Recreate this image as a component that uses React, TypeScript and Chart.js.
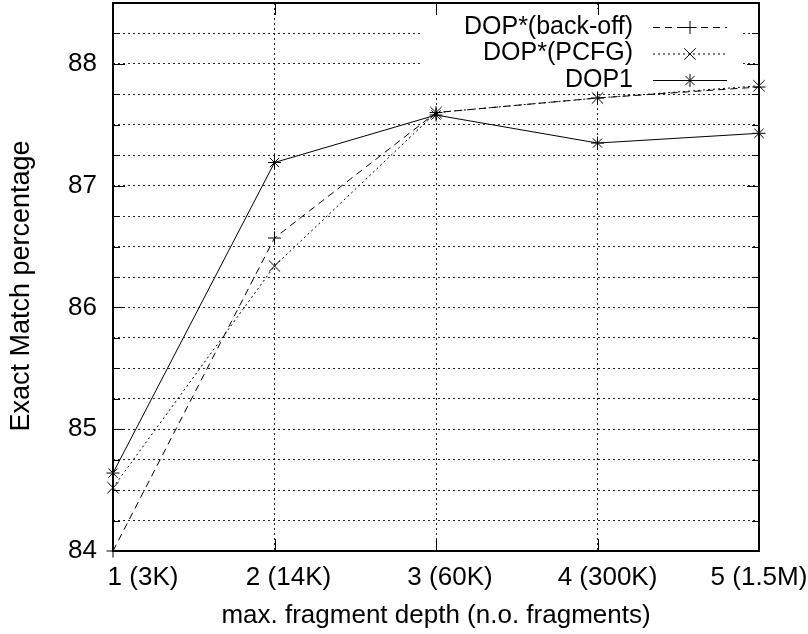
import React, { useEffect, useRef } from 'react';
import { Chart, registerables } from 'chart.js';

Chart.register(...registerables);

const categories = ['1 (3K)', '2 (14K)', '3 (60K)', '4 (300K)', '5 (1.5M)'];
const seriesNames = ['DOP*(back-off)', 'DOP*(PCFG)', 'DOP1'];
const backoffValues = [84.0, 86.57, 87.6, 87.72, 87.81];
const pcfgValues = [84.52, 86.34, 87.6, 87.72, 87.82];
const dop1Values = [84.64, 87.19, 87.58, 87.35, 87.43];
const yLabelValues = [84, 85, 86, 87, 88];
const yMin = 84;
const yMax = 88.5;
const yStep = 0.25;
const xTitle = 'max. fragment depth (n.o. fragments)';
const yTitle = 'Exact Match percentage';

// horizontal shift of each x tick label relative to its tick (as in the original figure)
const xLabelShift = [30, 14, 14, 10, 0];

const FONT = '"Liberation Sans", Arial, Helvetica, sans-serif';

function drawMarker(ctx: CanvasRenderingContext2D, style: string, x: number, y: number, r: number) {
  ctx.beginPath();
  if (style === 'cross' || style === 'star') {
    ctx.moveTo(x - r, y);
    ctx.lineTo(x + r, y);
    ctx.moveTo(x, y - r);
    ctx.lineTo(x, y + r);
  }
  if (style === 'crossRot' || style === 'star') {
    const d = r * Math.SQRT1_2;
    ctx.moveTo(x - d, y - d);
    ctx.lineTo(x + d, y + d);
    ctx.moveTo(x - d, y + d);
    ctx.lineTo(x + d, y - d);
  }
  ctx.stroke();
}

const framePlugin = {
  id: 'gnuplotFrame',
  beforeDatasetsDraw(chart: any) {
    const { ctx, chartArea: a, scales } = chart;
    ctx.save();
    ctx.fillStyle = '#ffffff';
    ctx.fillRect(420, 9, 321, 82);
    ctx.strokeStyle = '#000';
    ctx.lineWidth = 1;
    ctx.setLineDash([]);
    const ys = scales.y;
    ys.ticks.forEach((t: any) => {
      const py = Math.round(ys.getPixelForValue(t.value)) + 0.5;
      const len = yLabelValues.includes(t.value) ? 12 : 7;
      ctx.beginPath();
      ctx.moveTo(a.left, py);
      ctx.lineTo(a.left + len, py);
      ctx.moveTo(a.right - len, py);
      ctx.lineTo(a.right, py);
      ctx.stroke();
    });
    const xs = scales.x;
    xs.ticks.forEach((_t: any, i: number) => {
      const px = Math.round(xs.getPixelForValue(i)) + 0.5;
      ctx.beginPath();
      ctx.moveTo(px, a.bottom);
      ctx.lineTo(px, a.bottom - 12);
      ctx.moveTo(px, a.top);
      ctx.lineTo(px, a.top + 12);
      ctx.stroke();
    });
    ctx.lineWidth = 2;
    ctx.strokeRect(a.left, a.top, a.right - a.left, a.bottom - a.top);
    ctx.restore();
  },
  afterDraw(chart: any) {
    const { ctx, chartArea: a, scales } = chart;
    const xs = scales.x;
    ctx.save();
    ctx.fillStyle = '#000';
    ctx.font = `26px ${FONT}`;
    ctx.textAlign = 'center';
    ctx.textBaseline = 'middle';
    categories.forEach((lab, i) => {
      ctx.fillText(lab, xs.getPixelForValue(i) + xLabelShift[i], a.bottom + 27);
    });
    // y axis title
    ctx.translate(22, (a.top + a.bottom) / 2 + 9);
    ctx.rotate(-Math.PI / 2);
    ctx.font = `27px ${FONT}`;
    ctx.fillText(yTitle, 0, 0);
    ctx.restore();
  },
};

const keyPlugin = {
  id: 'gnuplotKey',
  afterDatasetsDraw(chart: any) {
    const { ctx } = chart;
    ctx.save();
    chart.data.datasets.forEach((ds: any, i: number) => {
      const y = 27 + i * 26.5;
      ctx.fillStyle = '#000';
      ctx.font = `25px ${FONT}`;
      ctx.textAlign = 'right';
      ctx.textBaseline = 'middle';
      ctx.fillText(ds.label, 633, y);
      ctx.strokeStyle = '#000';
      ctx.lineWidth = 1;
      ctx.setLineDash(ds.borderDash || []);
      ctx.beginPath();
      ctx.moveTo(653, y + 0.5);
      ctx.lineTo(727, y + 0.5);
      ctx.stroke();
      ctx.setLineDash([]);
      drawMarker(ctx, ds.pointStyle, 690, y + 0.5, ds.pointStyle === 'crossRot' ? 8 : 6.5);
    });
    ctx.restore();
  },
};

export default function App() {
  const canvasRef = useRef<HTMLCanvasElement | null>(null);

  useEffect(() => {
    if (!canvasRef.current) return;
    Chart.defaults.font.family = FONT;
    const common = {
      borderColor: '#000',
      borderWidth: 1,
      pointBorderColor: '#000',
      pointBackgroundColor: 'rgba(0,0,0,0)',
      pointBorderWidth: 1,
      fill: false,
      tension: 0,
      clip: false as any,
    };
    const chart = new Chart(canvasRef.current, {
      type: 'line',
      data: {
        labels: categories,
        datasets: [
          { ...common, label: seriesNames[0], data: backoffValues, borderDash: [7, 5], pointStyle: 'cross', pointRadius: 6.5 },
          { ...common, label: seriesNames[1], data: pcfgValues, borderDash: [2, 3], pointStyle: 'crossRot', pointRadius: 8 },
          { ...common, label: seriesNames[2], data: dop1Values, pointStyle: 'star', pointRadius: 6.5 },
        ],
      },
      options: {
        responsive: false,
        animation: false,
        layout: { autoPadding: false, padding: { left: 0, right: 49, top: 3, bottom: 0 } },
        plugins: { legend: { display: false }, tooltip: { enabled: false } },
        scales: {
          x: {
            type: 'category',
            offset: false,
            grid: { display: true, drawTicks: false, color: 'rgba(0,0,0,0.85)', lineWidth: 1 },
            border: { display: false, dash: [2, 3] },
            ticks: { display: false, autoSkip: false },
            title: { display: true, text: xTitle, color: '#000', font: { size: 26 }, padding: { top: 0, bottom: 3 } },
            afterFit: (s: any) => {
              s.height = 83;
              s.paddingLeft = 0;
              s.paddingRight = 0;
            },
          },
          y: {
            type: 'linear',
            min: yMin,
            max: yMax,
            grid: { display: true, drawTicks: false, color: 'rgba(0,0,0,0.85)', lineWidth: 1 },
            border: { display: false, dash: [2, 3] },
            ticks: {
              stepSize: yStep,
              autoSkip: false,
              color: '#000',
              font: { size: 26 },
              padding: 16,
              callback: (v: any) => (yLabelValues.includes(Number(v)) ? String(v) : ''),
            },
            title: { display: false, text: yTitle },
            afterFit: (s: any) => {
              s.width = 113;
              s.paddingTop = 0;
              s.paddingBottom = 0;
            },
          },
        },
      },
      plugins: [framePlugin, keyPlugin],
    });
    return () => chart.destroy();
  }, []);

  return (
    <div style={{ position: 'fixed', left: 0, top: 0, width: 808, height: 634, background: '#fff' }}>
      <canvas ref={canvasRef} width={808} height={634} style={{ width: 808, height: 634 }} />
    </div>
  );
}
